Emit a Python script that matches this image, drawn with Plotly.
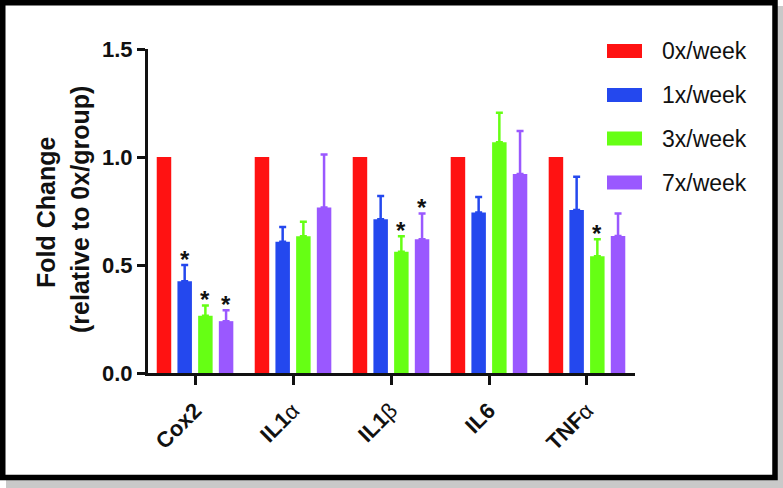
import plotly.graph_objects as go

categories = ["Cox2", "IL1α", "IL1β", "IL6", "TNFα"]
tick_labels = ["Cox2",
               "IL1<span style='font-weight:normal'>α</span>",
               "IL1<span style='font-weight:normal'>β</span>",
               "IL6",
               "TNF<span style='font-weight:normal'>α</span>"]
series_names = ["0x/week", "1x/week", "3x/week", "7x/week"]
mean_0x = [1.0, 1.0, 1.0, 1.0, 1.0]
mean_1x = [0.425, 0.608, 0.712, 0.743, 0.755]
mean_3x = [0.265, 0.633, 0.561, 1.068, 0.541]
mean_7x = [0.240, 0.766, 0.619, 0.921, 0.634]
err_0x = [0, 0, 0, 0, 0]
err_1x = [0.075, 0.068, 0.108, 0.072, 0.153]
err_3x = [0.048, 0.067, 0.072, 0.137, 0.078]
err_7x = [0.050, 0.245, 0.119, 0.199, 0.104]
signif_1x = [True, False, False, False, False]
signif_3x = [True, False, True, False, True]
signif_7x = [True, False, True, False, False]
colors = ["#FF1212", "#2448EE", "#66FF14", "#9A58FF"]

means = [mean_0x, mean_1x, mean_3x, mean_7x]
errs = [err_0x, err_1x, err_3x, err_7x]
signifs = [[False] * 5, signif_1x, signif_3x, signif_7x]

W, H = 783, 488
ML, MR, MT, MB = 148, 148, 49, 115
PW, PH = W - ML - MR, H - MT - MB
BARGAP = 0.155
FONT = "Liberation Sans, Arial, sans-serif"


def px(x):
    return (x - ML) / PW


def py(y):
    return (H - MB - y) / PH


fig = go.Figure()
for k in range(4):
    fig.add_trace(go.Bar(
        x=categories, y=means[k], name=series_names[k],
        marker=dict(color=colors[k], line=dict(width=0)),
        error_y=dict(type="data", symmetric=False, array=errs[k],
                     arrayminus=[0] * 5, color=colors[k], thickness=2.5,
                     width=3.5, visible=any(e > 0 for e in errs[k])),
        showlegend=False,
    ))

annotations = []
slot = (1 - BARGAP) / 4
for k in range(4):
    for i in range(5):
        if signifs[k][i]:
            annotations.append(dict(
                x=i + (k - 1.5) * slot, y=means[k][i] + errs[k][i],
                xref="x", yref="y", text="<b>*</b>", showarrow=False,
                yanchor="middle", yshift=6,
                font=dict(family=FONT, size=24, color="#111")))

# legend
shapes = []
legend_rows = [51, 95, 138.5, 182.5]
for k in range(4):
    yc = legend_rows[k]
    shapes.append(dict(type="rect", xref="paper", yref="paper",
                       x0=px(607), x1=px(642), y0=py(yc + 7), y1=py(yc - 7),
                       fillcolor=colors[k], line=dict(width=0)))
    annotations.append(dict(x=px(660), y=py(yc), xref="paper", yref="paper",
                            text=series_names[k], showarrow=False,
                            xanchor="left", yanchor="middle",
                            font=dict(family=FONT, size=23, color="#111")))

# y axis title (two lines)
annotations.append(dict(x=px(46), y=py(213), xref="paper", yref="paper",
                        text="<b>Fold Change</b>", showarrow=False, textangle=-90,
                        xanchor="center", yanchor="middle",
                        font=dict(family=FONT, size=25, color="#111")))
annotations.append(dict(x=px(80), y=py(210), xref="paper", yref="paper",
                        text="<b>(relative to 0x/group)</b>", showarrow=False,
                        textangle=-90, xanchor="center", yanchor="middle",
                        font=dict(family=FONT, size=25, color="#111")))

# frame with shadow
shapes.insert(0, dict(type="rect", xref="paper", yref="paper", layer="below",
                      x0=px(6), x1=px(783), y0=py(488), y1=py(6),
                      fillcolor="#c9c9c9", line=dict(width=0)))
shapes.insert(1, dict(type="rect", xref="paper", yref="paper", layer="below",
                      x0=px(2.75), x1=px(775), y0=py(477.5), y1=py(2.75),
                      fillcolor="white", line=dict(color="black", width=5.5)))

fig.update_layout(
    width=W, height=H,
    margin=dict(l=ML, r=MR, t=MT, b=MB, pad=0),
    paper_bgcolor="white", plot_bgcolor="rgba(0,0,0,0)",
    barmode="group", bargap=BARGAP, bargroupgap=0.30,
    font=dict(family=FONT, color="#111"),
    shapes=shapes, annotations=annotations,
    xaxis=dict(type="category", range=[-0.48, 4.49],
               tickmode="array", tickvals=categories, ticktext=tick_labels,
               tickangle=-45, ticks="outside", ticklen=9, tickwidth=3,
               tickcolor="#111", showline=True, linewidth=3, linecolor="#111",
               showgrid=False, zeroline=False, ticklabelstandoff=4,
               tickfont=dict(family=FONT, size=22, color="#111", weight="bold")),
    yaxis=dict(range=[0, 1.5], tickvals=[0, 0.5, 1.0, 1.5],
               ticktext=["0.0", "0.5", "1.0", "1.5"],
               ticks="outside", ticklen=8, tickwidth=3, tickcolor="#111",
               showline=True, linewidth=3, linecolor="#111",
               showgrid=False, zeroline=False,
               tickfont=dict(family=FONT, size=22, color="#111", weight="bold")),
)

fig.write_html("out.html",
               config={"displayModeBar": False},
               post_script="document.body.style.margin='0';")
